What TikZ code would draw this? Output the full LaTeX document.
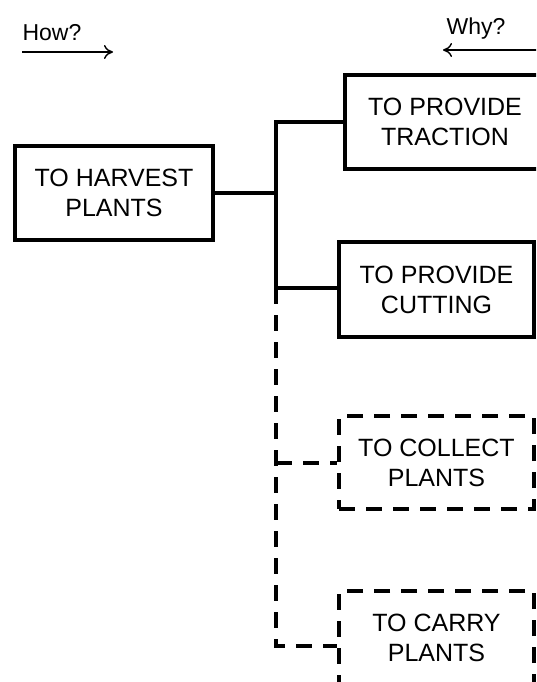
\documentclass[tikz,border=0pt]{standalone}
\usepackage{fontspec}
\setmainfont{Liberation Sans}
\usetikzlibrary{arrows.meta}
\tikzset{
  fbox/.style={draw, line width=3.5pt, rectangle, inner sep=0pt, align=center,
    font=\fontsize{25}{30}\selectfont},
  dbox/.style={fbox, dash pattern=on 16pt off 11pt},
  conn/.style={line width=3.5pt},
  dconn/.style={line width=3.5pt, dash pattern=on 16pt off 11pt},
  hint/.style={font=\fontsize{23}{26}\selectfont, inner sep=0pt},
  harrow/.style={line width=1.4pt, -{To[length=9pt,width=14pt]}}
}
\begin{document}
\begin{tikzpicture}[x=1pt,y=-1pt]
\useasboundingbox (0,0) rectangle (536,682);
\clip (0,0) rectangle (536,682);
\fill[white] (0,0) rectangle (536,682);

% hints
\node[hint] (how) at (52,33) {How?};
\coordinate (howa) at (22,52);
\coordinate (howb) at (113,52);
\draw[harrow] (howa) -- (howb);
\node[hint] (why) at (476,29) {Why?};
\coordinate (whya) at (540,50);
\coordinate (whyb) at (443,50);
\draw[harrow] (whya) -- (whyb);

% boxes
\node[fbox, minimum width=198pt, minimum height=94pt] (harvest) at (114,193) {TO HARVEST\\PLANTS};
\node[fbox, minimum width=200pt, minimum height=94pt] (traction) at (445,122) {TO PROVIDE\\TRACTION};
\node[fbox, minimum width=195pt, minimum height=95pt] (cutting) at (436.5,289.5) {TO PROVIDE\\CUTTING};
\node[dbox, minimum width=195pt, minimum height=93pt] (collect) at (436.5,462.5) {TO COLLECT\\PLANTS};
\node[dbox, minimum width=195pt, minimum height=93pt] (carry) at (436.5,637.5) {TO CARRY\\PLANTS};

% trunk points
\coordinate (t0) at (276,193);
\coordinate (t1) at (276,122);
\coordinate (t2) at (276,288);
\coordinate (t3) at (276,463);
\coordinate (t4) at (276,646);

% connectors
\draw[conn] (harvest.east |- t0) -- (t0);
\draw[conn] (traction.west |- t1) -- (t1) -- (t2) -- (cutting.west |- t2);
\draw[dconn] (t2) -- (t4) -- (carry.west |- t4);
\draw[dconn] (t3) -- (collect.west |- t3);
\end{tikzpicture}
\end{document}
